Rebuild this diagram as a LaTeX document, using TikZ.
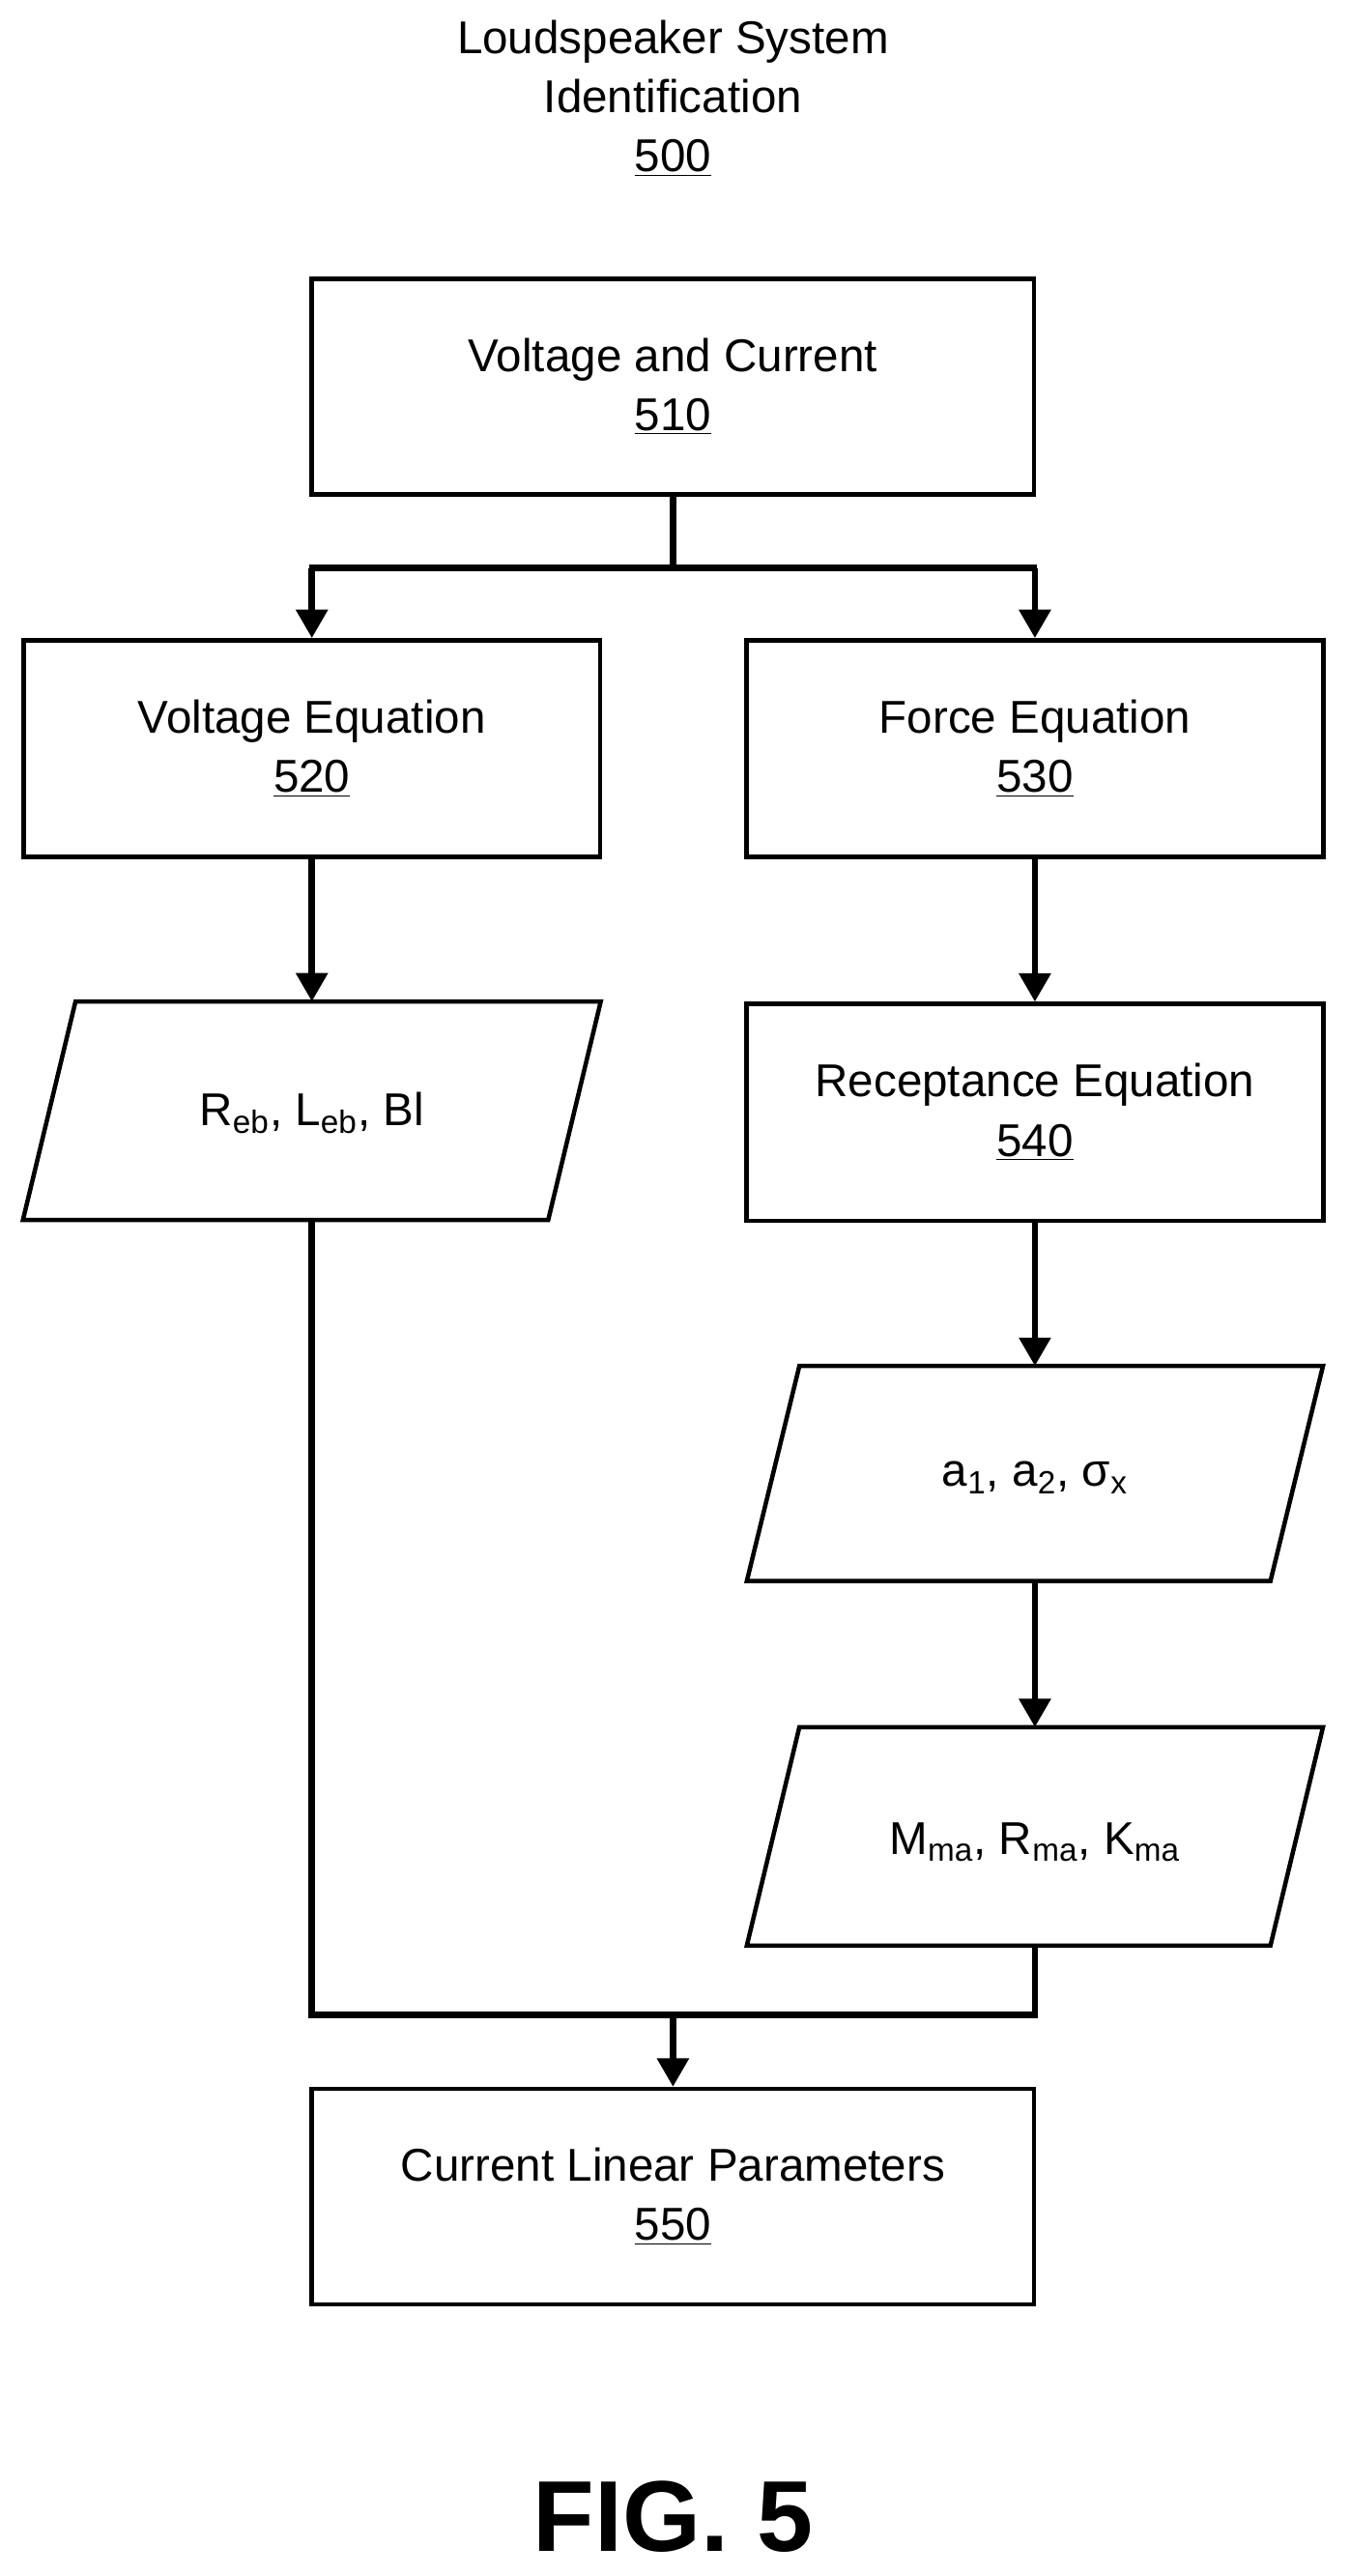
\documentclass[tikz,border=0pt]{standalone}
\usepackage{fontspec}
\setmainfont{Liberation Sans}
\usetikzlibrary{arrows.meta}
\tikzset{every picture/.style={line width=0.75pt}}
\tikzset{
box/.style={draw,line width=2pt,inner sep=0pt,align=center,font=\fontsize{21}{27}\selectfont},
wide box/.style={box,minimum width=330pt,minimum height=98.5pt},
narrow box/.style={box,minimum width=263.5pt,minimum height=99pt},
para/.style={line width=2pt},
flow/.style={line width=3pt,-{Triangle[length=13pt,width=14pt]}},
link/.style={line width=3pt}}
\begin{document}
\begin{tikzpicture}[x=0.75pt,y=0.75pt,yscale=-1,xscale=1]
\useasboundingbox (0,0) rectangle (822,1569);

% Title
\node (title) at (410,60) [align=center,font=\fontsize{21}{27}\selectfont] {Loudspeaker System\\Identification\\\underline{500}};

% Boxes
\node (vc) at (410,235.5) [wide box] {Voltage and Current\\\underline{510}};
\node (ve) at (190,456) [narrow box] {Voltage Equation\\\underline{520}};
\node (fe) at (630.5,456) [narrow box] {Force Equation\\\underline{530}};
\node (re) at (630.5,677.5) [narrow box] {Receptance Equation\\\underline{540}};
\node (cl) at (410,1338) [wide box] {Current Linear Parameters\\\underline{550}};

% Parallelograms
\draw [para] (46,610) -- (366,610) -- (334,743) -- (14,743) -- cycle;
\node (reb) at (190,678) [font=\fontsize{21}{24}\selectfont] {R\textsubscript{eb}, L\textsubscript{eb}, Bl};
\draw [para] (487,832) -- (806,832) -- (774,963) -- (455,963) -- cycle;
\node (aa) at (630.5,900) [font=\fontsize{21}{24}\selectfont] {a\textsubscript{1}, a\textsubscript{2}, σ\textsubscript{x}};
\draw [para] (487,1052) -- (806,1052) -- (774,1185) -- (455,1185) -- cycle;
\node (mm) at (630.5,1122) [font=\fontsize{21}{24}\selectfont] {M\textsubscript{ma}, R\textsubscript{ma}, K\textsubscript{ma}};
\coordinate (rebtop) at (190,610);
\coordinate (rebbot) at (190,743);
\coordinate (aatop) at (630.5,832);
\coordinate (aabot) at (630.5,963);
\coordinate (mmtop) at (630.5,1052);
\coordinate (mmbot) at (630.5,1185);

% Connectors
\coordinate (split) at (410,346);
\coordinate (join) at (410,1227);
\draw [link] (vc.south) -- (split);
\draw [flow] (190,346) -- (ve.north);
\draw [flow] (630.5,346) -- (fe.north);
\draw [link] (188.5,346) -- (632,346);
\draw [flow] (ve.south) -- (rebtop);
\draw [flow] (fe.south) -- (re.north);
\draw [flow] (re.south) -- (aatop);
\draw [flow] (aabot) -- (mmtop);
\draw [link] (rebbot) |- (join);
\draw [link] (mmbot) |- (join);
\draw [flow] (join) -- (cl.north);

% Figure label
\node (fig) at (410,1533) [font=\fontsize{46}{50}\selectfont\bfseries] {FIG. 5};

\end{tikzpicture}
\end{document}
